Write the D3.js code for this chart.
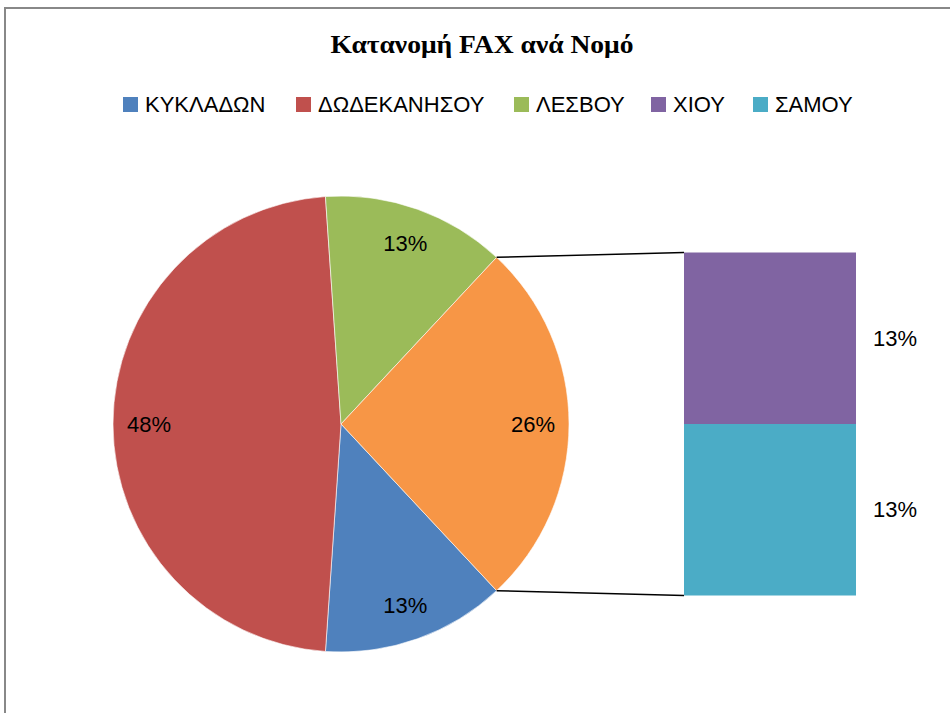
<!DOCTYPE html>
<html>
<head>
<meta charset="utf-8">
<script src="https://cdn.jsdelivr.net/npm/d3@7"></script>
<style>
  body { margin: 0; background: #fff; }
</style>
</head>
<body>
<div id="chart"></div>
<script>
// Κατανομή FAX ανά Νομό
const pieNames = ["ΚΥΚΛΑΔΩΝ", "ΔΩΔΕΚΑΝΗΣΟΥ", "ΛΕΣΒΟΥ"];
const pieValues = [3, 11, 3];
const barNames = ["ΧΙΟΥ", "ΣΑΜΟΥ"];
const barValues = [3, 3];
const legendNames = ["ΚΥΚΛΑΔΩΝ", "ΔΩΔΕΚΑΝΗΣΟΥ", "ΛΕΣΒΟΥ", "ΧΙΟΥ", "ΣΑΜΟΥ"];
const colors = ["#4F81BD", "#C0504D", "#9BBB59", "#8064A2", "#4BACC6"];
const otherColor = "#F79646";

const width = 950, height = 713;
const cx = 341, cy = 424, r = 228;
const labelFont = "Liberation Sans, Arial, sans-serif";

const svg = d3.select("#chart").append("svg")
    .attr("width", width)
    .attr("height", height);

// cadre
svg.append("rect")
    .attr("x", 5).attr("y", 8)
    .attr("width", 1000).attr("height", 1000)
    .attr("fill", "none")
    .attr("stroke", "#888")
    .attr("stroke-width", 2);

// titre
svg.append("text")
    .attr("x", 482).attr("y", 53)
    .attr("text-anchor", "middle")
    .attr("font-family", "Liberation Serif, serif")
    .attr("font-weight", "bold")
    .attr("font-size", "25px")
    .attr("textLength", 303)
    .attr("lengthAdjust", "spacingAndGlyphs")
    .text("Κατανομή FAX ανά Νομό");

// légende
const legendX = [123, 296, 514, 651, 753];
const legend = svg.append("g");
legendNames.forEach((name, i) => {
    const g = legend.append("g").attr("transform", `translate(${legendX[i]}, 112)`);
    g.append("rect")
        .attr("x", 0).attr("y", -15)
        .attr("width", 15).attr("height", 15)
        .attr("fill", colors[i]);
    g.append("text")
        .attr("x", 22).attr("y", 0)
        .attr("font-family", labelFont)
        .attr("font-size", "22px")
        .attr("fill", "#000")
        .text(name);
});

// camembert : la part "autres" centrée à 3 heures
const total = d3.sum(pieValues) + d3.sum(barValues);
const otherValue = d3.sum(barValues);
const pieData = pieValues.map((v, i) => ({ name: pieNames[i], value: v, color: colors[i] }))
    .concat([{ name: "other", value: otherValue, color: otherColor }]);
const a0 = Math.PI / 2 + Math.PI * otherValue / total;

const pie = d3.pie()
    .sort(null)
    .value(d => d.value)
    .startAngle(a0)
    .endAngle(a0 + 2 * Math.PI);

const arcs = pie(pieData);
const arc = d3.arc().innerRadius(0).outerRadius(r);
const labelArc = d3.arc().innerRadius(192).outerRadius(192);

const pg = svg.append("g").attr("transform", `translate(${cx}, ${cy})`);
pg.selectAll("path")
    .data(arcs)
    .enter()
    .append("path")
    .attr("d", arc)
    .attr("fill", d => d.data.color)
    .attr("stroke", "#fff")
    .attr("stroke-width", 0.6);

const fmt = v => Math.round(v / total * 100) + "%";
pg.selectAll(".pie-label")
    .data(arcs)
    .enter()
    .append("text")
    .attr("class", "pie-label")
    .attr("transform", d => `translate(${labelArc.centroid(d)})`)
    .attr("text-anchor", "middle")
    .attr("dy", "0.35em")
    .attr("font-family", labelFont)
    .attr("font-size", "22px")
    .text(d => fmt(d.data.value));

// barre empilée
const barX = 684, barW = 172, barH = 343;
const yScale = d3.scaleLinear()
    .domain([0, otherValue])
    .range([cy + barH / 2, cy - barH / 2]);

// XIOY en haut, ΣΑΜΟΥ en bas
let cum = 0;
const stack = [];
for (let i = barNames.length - 1; i >= 0; i--) {
    stack.push({ name: barNames[i], value: barValues[i], y0: cum, y1: cum + barValues[i], color: colors[3 + i] });
    cum += barValues[i];
}

svg.selectAll(".bar-seg")
    .data(stack)
    .enter()
    .append("rect")
    .attr("class", "bar-seg")
    .attr("x", barX)
    .attr("width", barW)
    .attr("y", d => yScale(d.y1))
    .attr("height", d => yScale(d.y0) - yScale(d.y1))
    .attr("fill", d => d.color);

svg.selectAll(".bar-label")
    .data(stack)
    .enter()
    .append("text")
    .attr("class", "bar-label")
    .attr("x", 895)
    .attr("y", d => yScale((d.y0 + d.y1) / 2))
    .attr("dy", "0.35em")
    .attr("text-anchor", "middle")
    .attr("font-family", labelFont)
    .attr("font-size", "22px")
    .text(d => fmt(d.value));

// lignes de liaison
const other = arcs[arcs.length - 1];
const pt = a => [cx + r * Math.sin(a), cy - r * Math.cos(a)];
const links = [
    [pt(other.startAngle), [barX, yScale(otherValue)]],
    [pt(other.endAngle), [barX, yScale(0)]]
];
svg.selectAll(".link")
    .data(links)
    .enter()
    .append("line")
    .attr("class", "link")
    .attr("x1", d => d[0][0]).attr("y1", d => d[0][1])
    .attr("x2", d => d[1][0]).attr("y2", d => d[1][1])
    .attr("stroke", "#000")
    .attr("stroke-width", 1.5);
</script>
</body>
</html>
